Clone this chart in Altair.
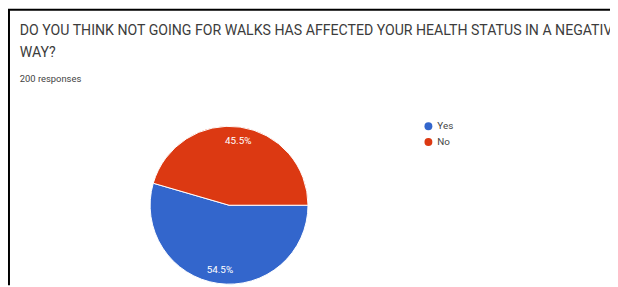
import math
import altair as alt
import pandas as pd

# Data
categories = ["Yes", "No"]
values = [54.5, 45.5]
labels = ["54.5%", "45.5%"]
colors = ["#3366cc", "#dc3912"]
title_line1 = "DO YOU THINK NOT GOING FOR WALKS HAS AFFECTED YOUR HEALTH STATUS IN A NEGATIVE"
title_line2 = "WAY?"
subtitle = "200 responses"

df = pd.DataFrame({"answer": categories, "value": values, "label": labels,
                   "idx": list(range(len(categories)))})

W, H = 610, 279
CX, CY, R = 224, 198, 80
FONT = "Roboto"

theta_scale = alt.Scale(range=[math.pi / 2, math.pi / 2 + 2 * math.pi])

base = alt.Chart(df)

pie = base.mark_arc(radius=R, stroke="white", strokeWidth=1).encode(
    theta=alt.Theta("value:Q", stack=True, scale=theta_scale),
    order=alt.Order("idx:Q"),
    color=alt.Color(
        "answer:N",
        scale=alt.Scale(domain=categories, range=colors),
        legend=alt.Legend(
            orient="none", legendX=421, legendY=113, title=None,
            symbolType="circle", symbolSize=64, symbolStrokeWidth=0,
            labelFontSize=10, labelColor="#444444", labelFont=FONT,
            rowPadding=6, padding=0, symbolOpacity=1,
        ),
    ),
    x=alt.value(CX), y=alt.value(CY),
)

pct = base.mark_text(radius=66, fontSize=10, color="white", font=FONT).encode(
    theta=alt.Theta("value:Q", stack=True, scale=theta_scale),
    order=alt.Order("idx:Q"),
    text="label:N",
    x=alt.value(CX), y=alt.value(CY),
)

def txt(t, x, y, size, color="#3c3c3c"):
    return alt.Chart(pd.DataFrame({"t": [t]})).mark_text(
        align="left", baseline="alphabetic", fontSize=size, font=FONT, color=color
    ).encode(text="t:N", x=alt.value(x), y=alt.value(y))

t1 = txt(title_line1, 12, 25, 14.3)
t2 = txt(title_line2, 12, 48, 14.3)
t3 = txt(subtitle, 12, 73, 9.5, "#444444")

top_rule = alt.Chart(pd.DataFrame({"a": [0]})).mark_rule(color="black", strokeWidth=2).encode(
    x=alt.value(0), x2=alt.value(W), y=alt.value(0)
)
left_rule = alt.Chart(pd.DataFrame({"a": [0]})).mark_rule(color="black", strokeWidth=2).encode(
    x=alt.value(1), y=alt.value(0), y2=alt.value(H)
)

chart = alt.layer(pie, pct, t1, t2, t3, top_rule, left_rule).properties(
    width=W, height=H, padding=0, autosize=alt.AutoSizeParams(type="none"),
    background="white",
).configure_view(stroke=None)

chart.save("out.html", embed_options={"renderer": "svg", "actions": False})
